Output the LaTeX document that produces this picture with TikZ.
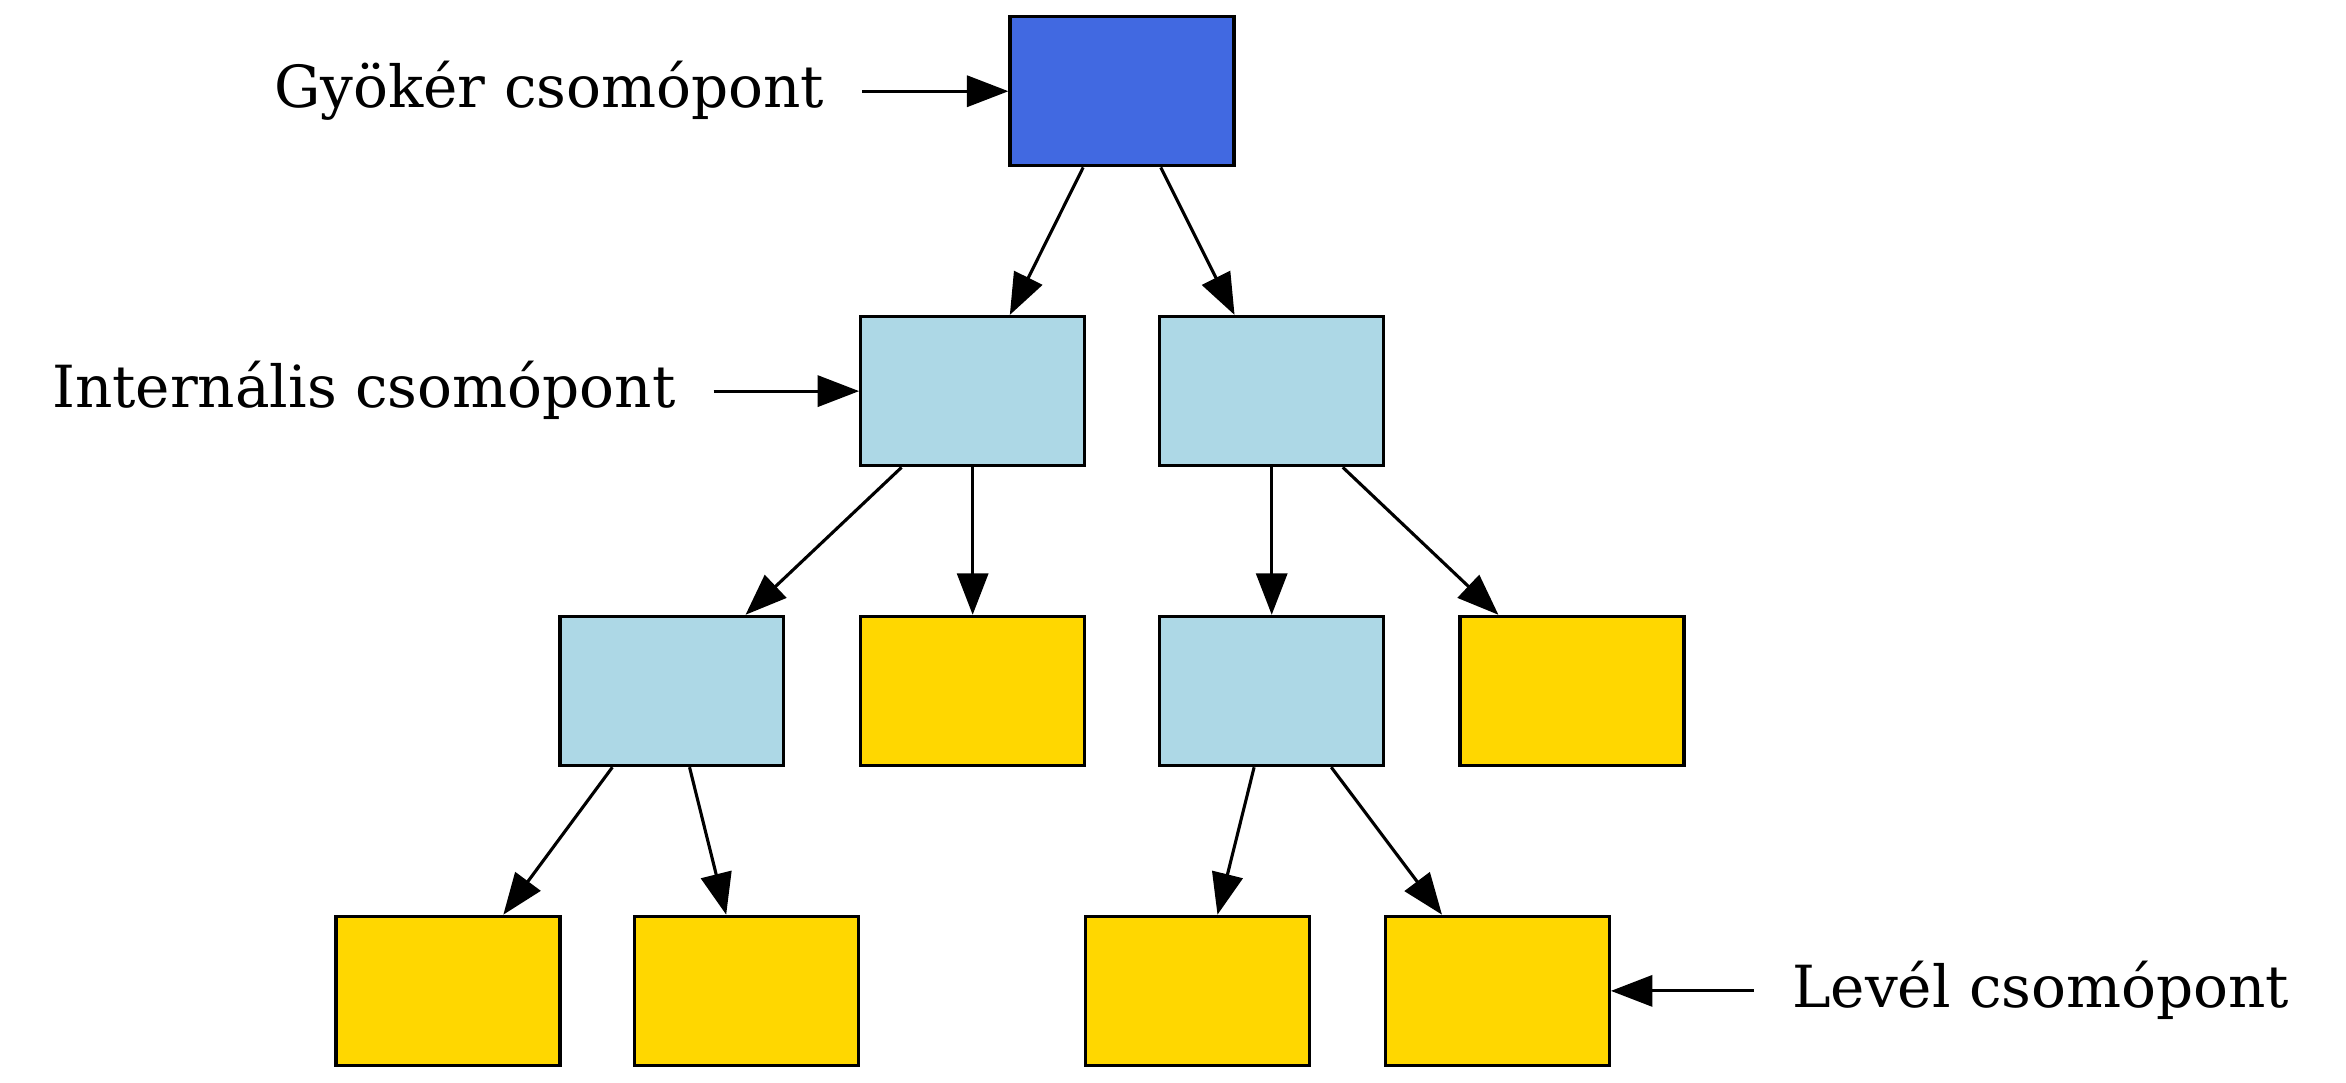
\documentclass[tikz,border=0pt]{standalone}
\usepackage{fontspec}
\setmainfont{DejaVu Serif}
\usetikzlibrary{arrows.meta}
\definecolor{RootBlue}{HTML}{4169E1}
\definecolor{InnerBlue}{HTML}{ADD8E6}
\definecolor{LeafGold}{HTML}{FFD700}

\begin{document}
\begin{tikzpicture}[x=1pt,y=-1pt, every node/.style={font=\fontsize{14}{17}\selectfont},
  box/.style={draw,line width=0.75pt,minimum width=54pt,minimum height=36pt,inner sep=0pt},
  rootbox/.style={box,fill=RootBlue}, inbox/.style={box,fill=InnerBlue}, leafbox/.style={box,fill=LeafGold},
  lbl/.style={inner sep=0pt,anchor=base},
  edge/.style={-{Triangle[length=10pt,width=7.5pt]},line width=0.75pt}]
\useasboundingbox (0,0) rectangle (565.6,261.1);
% tree
\node[rootbox] (root) at (270.5,22) {};
\node[inbox] (i1) at (234.5,94.3) {};
\node[inbox] (i2) at (306.6,94.3) {};
\node[inbox] (i3) at (162,166.6) {};
\node[leafbox] (l1) at (234.5,166.6) {};
\node[inbox] (i4) at (306.6,166.6) {};
\node[leafbox] (l2) at (379,166.6) {};
\node[leafbox] (l3) at (108,238.9) {};
\node[leafbox] (l4) at (180,238.9) {};
\node[leafbox] (l5) at (288.6,238.9) {};
\node[leafbox] (l6) at (361,238.9) {};
% labels
\node[lbl] (tgy) at (132.4,26) {Gyökér csomópont};
\node[lbl] (tin) at (87.7,98.3) {Internális csomópont};
\node[lbl] (tlv) at (492,242.9) {Levél csomópont};
\draw[edge] (root.243) -- (i1.64);
\draw[edge] (root.297) -- (i2.116);
\draw[edge] (i1.227) -- (i3.46);
\draw[edge] (i1.south) -- (l1.north);
\draw[edge] (i2.south) -- (i4.north);
\draw[edge] (i2.313) -- (l2.134);
\draw[edge] (i3.232) -- (l3.54);
\draw[edge] (i3.283) -- (l4.105);
\draw[edge] (i4.257) -- (l5.75);
\draw[edge] (i4.308) -- (l6.126);
\draw[edge] ([xshift=9pt]tgy.east |- root) -- (root.west);
\draw[edge] ([xshift=9pt]tin.east |- i1) -- (i1.west);
\draw[edge] ([xshift=-9pt]tlv.west |- l6) -- (l6.east);
\end{tikzpicture}
\end{document}
